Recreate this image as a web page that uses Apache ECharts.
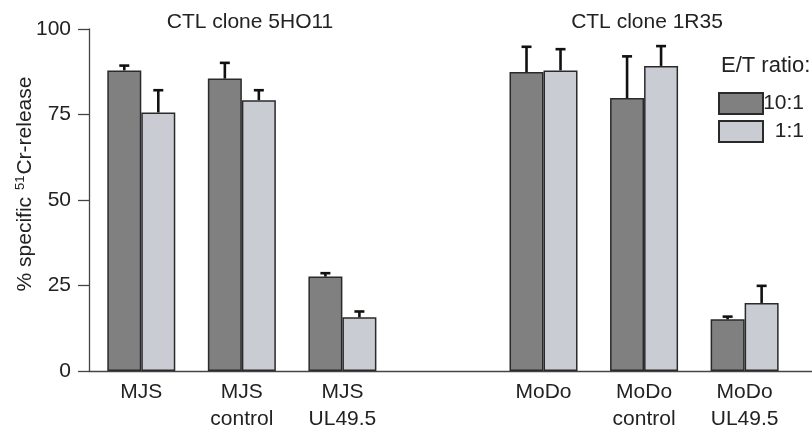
<!DOCTYPE html>
<html>
<head>
<meta charset="utf-8">
<script src="https://cdn.jsdelivr.net/npm/echarts@6/dist/echarts.min.js"></script>
<style>
  html, body { margin: 0; padding: 0; background: #fff; }
  #chart { width: 812px; height: 433px; }
</style>
</head>
<body>
<div id="chart"></div>
<script>
  // x positions of the groups (4 is the empty slot between the two clones)
  const positions = [1, 2, 3, 5, 6, 7]
  const categories = ['MJS', 'MJS\ncontrol', 'MJS\nUL49.5', 'MoDo', 'MoDo\ncontrol', 'MoDo\nUL49.5']
  const seriesNames = ['10:1', '1:1']
  // % specific 51Cr-release, mean values
  const ratio10 = [87.9, 85.5, 27.6, 87.4, 79.8, 15.1]
  const ratio1 = [75.6, 79.2, 15.7, 87.9, 89.2, 19.9]
  // upper end of the error bars
  const ratio10Err = [89.3, 90.1, 28.6, 94.8, 92.0, 15.9]
  const ratio1Err = [82.1, 82.1, 17.4, 94.1, 95.0, 24.9]
  const yTicks = [0, 25, 50, 75, 100]

  const font = '"Liberation Sans", Arial, sans-serif'
  const textColor = '#222'
  const barWidth = 34

  const chart = echarts.init(document.getElementById('chart'))

  function toPairs(vals) {
    return positions.map((p, i) => [p, vals[i]])
  }

  function errorSeries(name, means, tops, offset) {
    return {
      type: 'custom',
      name: name + ' err',
      silent: true,
      z: 5,
      data: positions.map((p, i) => [p, means[i], tops[i]]),
      renderItem(params, api) {
        const base = api.coord([api.value(0), api.value(1)])
        const top = api.coord([api.value(0), api.value(2)])
        const x = base[0] + offset
        const style = { stroke: '#111', lineWidth: 2.6 }
        return {
          type: 'group',
          children: [
            { type: 'line', shape: { x1: x, y1: base[1], x2: x, y2: top[1] }, style },
            { type: 'line', shape: { x1: x - 5, y1: top[1], x2: x + 5, y2: top[1] }, style }
          ]
        }
      }
    }
  }

  chart.setOption({
    animation: false,
    textStyle: { fontFamily: font, color: textColor },
    title: [
      {
        text: 'CTL clone 5HO11', left: 245, top: 7, textAlign: 'center',
        textStyle: { fontSize: 21, fontWeight: 'normal', color: textColor, fontFamily: font }
      },
      {
        text: 'CTL clone 1R35', left: 642, top: 7, textAlign: 'center',
        textStyle: { fontSize: 21, fontWeight: 'normal', color: textColor, fontFamily: font }
      },
      {
        text: 'E/T ratio:', left: 716, top: 50,
        textStyle: { fontSize: 22, fontWeight: 'normal', color: textColor, fontFamily: font }
      }
    ],
    legend: {
      data: seriesNames,
      orient: 'vertical',
      left: 718,
      top: 92,
      padding: 0,
      itemWidth: 44,
      itemHeight: 21,
      itemGap: 5,
      icon: 'rect',
      formatter: name => '{r|' + name + '}',
      textStyle: {
        fontSize: 21, color: textColor, fontFamily: font,
        rich: { r: { width: 36, align: 'right', fontSize: 21, color: textColor, fontFamily: font } }
      }
    },
    grid: { left: 89, right: 0, top: 29, bottom: 62, outerBoundsMode: 'none' },
    xAxis: {
      type: 'value',
      min: 0.48,
      max: 7.67,
      splitLine: { show: false },
      axisTick: { show: false },
      axisLine: { onZero: false, lineStyle: { color: '#444', width: 1.3 } },
      axisLabel: {
        customValues: positions,
        formatter: v => categories[positions.indexOf(Math.round(v))] || '',
        fontSize: 21,
        lineHeight: 27,
        margin: 8,
        color: textColor,
        fontFamily: font
      }
    },
    yAxis: {
      type: 'value',
      min: 0,
      max: 100,
      interval: 25,
      splitLine: { show: false },
      axisLine: { show: true, lineStyle: { color: '#444', width: 1.3 } },
      axisTick: { show: true, length: 11, lineStyle: { color: '#444', width: 1.3 } },
      axisLabel: {
        customValues: yTicks,
        fontSize: 21, margin: 18, color: textColor, fontFamily: font
      },
      name: '% specific {sup|51}Cr-release',
      nameLocation: 'middle',
      nameGap: 53,
      nameMoveOverlap: false,
      nameTextStyle: {
        fontSize: 21,
        color: textColor,
        fontFamily: font,
        padding: [0, 0, 0, 32],
        rich: {
          sup: { fontSize: 13, verticalAlign: 'top', padding: [0, 1, 9, 1], color: textColor, fontFamily: font }
        }
      }
    },
    series: [
      {
        name: seriesNames[0],
        type: 'bar',
        barWidth: barWidth,
        barGap: '0%',
        data: toPairs(ratio10),
        itemStyle: { color: '#808080', borderColor: '#2a2a2a', borderWidth: 1.5 }
      },
      {
        name: seriesNames[1],
        type: 'bar',
        barWidth: barWidth,
        barGap: '0%',
        data: toPairs(ratio1),
        itemStyle: { color: '#c9ccd3', borderColor: '#2a2a2a', borderWidth: 1.5 }
      },
      errorSeries(seriesNames[0], ratio10, ratio10Err, -barWidth / 2),
      errorSeries(seriesNames[1], ratio1, ratio1Err, barWidth / 2)
    ]
  })
</script>
</body>
</html>
